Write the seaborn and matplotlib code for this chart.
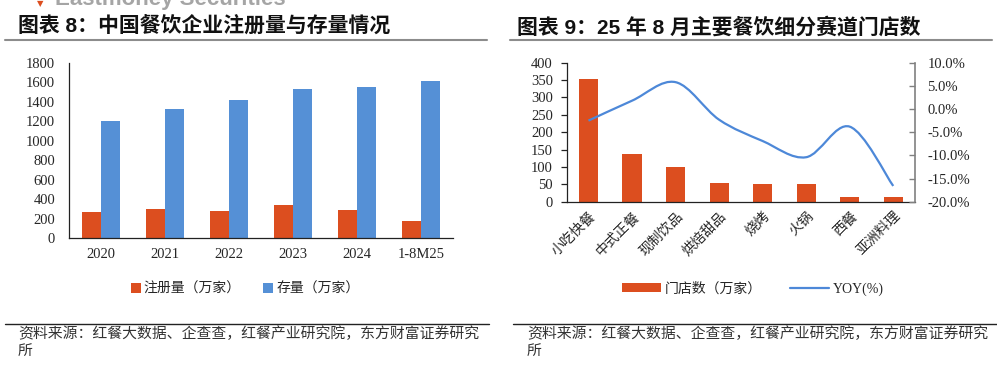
import numpy as np
import pandas as pd
import matplotlib.pyplot as plt
import seaborn as sns
from matplotlib.path import Path
from matplotlib.patches import PathPatch, Patch
from matplotlib.lines import Line2D
from matplotlib.ticker import FuncFormatter

sns.set_style("white")
plt.rcParams['font.family'] = ['Liberation Serif', 'Noto Sans CJK SC']

# left chart data
years = ['2020', '2021', '2022', '2023', '2024', '1-8M25']
registered = [270, 298, 277, 335, 284, 175]
stock = [1204, 1320, 1413, 1529, 1550, 1612]
left_series = ['注册量（万家）', '存量（万家）']

# right chart data
segments = ['小吃快餐', '中式正餐', '现制饮品', '烘焙甜品', '烧烤', '火锅', '西餐', '亚洲料理']
stores = [352, 136, 99, 54, 50, 50, 13, 13]
yoy = [-2.5, 1.8, 5.8, -2.3, -6.9, -10.4, -3.8, -16.6]

ORANGE = '#DC4E1F'
BLUE = '#5590D6'
LINE_BLUE = '#4D88D8'

fig = plt.figure(figsize=(9.97, 3.66), dpi=100)
W, H = 997, 366


def box(x0, y0, x1, y1):
    return [x0 / W, (H - y1) / H, (x1 - x0) / W, (y1 - y0) / H]


cjk = ['Liberation Sans', 'Noto Sans CJK SC']

# header decoration (logo text is cut by the top edge, as in the source page)
fig.text(55 / W, (H - 5) / H, 'Eastmoney Securities', fontsize=16, fontweight='bold',
         color='#a5a5a5', family=['Liberation Sans'], va='baseline')
fig.text(40 / W, (H - 4) / H, '▼', fontsize=6, color=ORANGE, family=['DejaVu Sans'],
         va='center', ha='center')
fig.text(18 / W, (H - 27) / H, '图表 8：中国餐饮企业注册量与存量情况', fontsize=15,
         fontweight='bold', family=cjk, va='center', color='#111111')
fig.text(517 / W, (H - 27) / H, '图表 9：25 年 8 月主要餐饮细分赛道门店数', fontsize=15,
         fontweight='bold', family=cjk, va='center', color='#111111')
for x0, x1 in [(5, 487), (510, 992)]:
    fig.add_artist(Line2D([x0 / W, x1 / W], [(H - 40) / H] * 2, color='#8c8c8c', lw=1.5))
for x0, x1 in [(5, 489), (513, 997)]:
    fig.add_artist(Line2D([x0 / W, x1 / W], [(H - 324) / H] * 2, color='#222222', lw=1.0))
src = '资料来源：红餐大数据、企查查，红餐产业研究院，东方财富证券研究'
for x0 in [18, 527]:
    fig.text(x0 / W, (H - 334) / H, src, fontsize=10.7, family=['Noto Sans CJK SC'],
             va='center', color='#333333')
    fig.text(x0 / W, (H - 352) / H, '所', fontsize=10.7, family=['Noto Sans CJK SC'],
             va='center', color='#333333')

# ---- left chart
ax1 = fig.add_axes(box(69, 62.7, 453, 238))
df1 = pd.DataFrame({'year': years * 2,
                    'value': registered + stock,
                    'series': [left_series[0]] * len(years) + [left_series[1]] * len(years)})
sns.barplot(data=df1, x='year', y='value', hue='series', palette=[ORANGE, BLUE],
            width=0.6, gap=0, saturation=1, ax=ax1, legend=False, edgecolor='none')
ax1.set_ylim(0, 1800)
ax1.set_yticks(range(0, 1801, 200))
ax1.set_xlim(-0.5, len(years) - 0.5)
ax1.set_xlabel('')
ax1.set_ylabel('')

# ---- right chart
ax2 = fig.add_axes(box(566.7, 62.7, 915, 201.7))
df2 = pd.DataFrame({'segment': segments, 'stores': stores})
sns.barplot(data=df2, x='segment', y='stores', color=ORANGE, width=0.44,
            saturation=1, ax=ax2, edgecolor='none')
ax2.set_ylim(0, 400)
ax2.set_yticks(range(0, 401, 50))
ax2.set_xlim(-0.5, len(segments) - 0.5)
ax2.set_xlabel('')
ax2.set_ylabel('')
ax2.set_xticks(range(len(segments)))
ax2.set_xticklabels(segments, rotation=45, ha='right', rotation_mode='anchor',
                    family=['Noto Sans CJK SC'], fontsize=10)

ax3 = ax2.twinx()
ax3.set_ylim(-20, 10)
ax3.set_yticks(np.arange(-20, 10.1, 5))
ax3.yaxis.set_major_formatter(FuncFormatter(lambda v, p: f'{v:.1f}%'))
# smoothed line (Catmull-Rom as cubic Bezier) through the yoy values
xs = np.arange(len(yoy), dtype=float)
ys = np.array(yoy, dtype=float)
verts = [(xs[0], ys[0])]
codes = [Path.MOVETO]
n = len(xs)
for i in range(n - 1):
    p0 = (xs[max(i - 1, 0)], ys[max(i - 1, 0)])
    p1 = (xs[i], ys[i])
    p2 = (xs[i + 1], ys[i + 1])
    p3 = (xs[min(i + 2, n - 1)], ys[min(i + 2, n - 1)])
    c1 = (p1[0] + (p2[0] - p0[0]) / 6, p1[1] + (p2[1] - p0[1]) / 6)
    c2 = (p2[0] - (p3[0] - p1[0]) / 6, p2[1] - (p3[1] - p1[1]) / 6)
    verts += [c1, c2, p2]
    codes += [Path.CURVE4] * 3
ax3.add_patch(PathPatch(Path(verts, codes), facecolor='none', edgecolor=LINE_BLUE, lw=1.6))

# axis styling
for ax in (ax1, ax2):
    for s in ['top', 'right']:
        ax.spines[s].set_visible(False)
    ax.spines['left'].set_color('#222222')
    ax.spines['bottom'].set_color('#222222')
    ax.spines['left'].set_linewidth(0.9)
    ax.spines['bottom'].set_linewidth(0.9)
    nc = len(ax.get_xticks())
    ax.set_xticks(np.arange(-0.5, nc), minor=True)
    ax.tick_params(axis='x', which='major', length=0, pad=7, labelsize=10.5)
    ax.tick_params(axis='x', which='minor', length=5, direction='out', color='#222222', width=0.9)
    ax.tick_params(axis='y', length=4, direction='out', color='#222222', width=0.9,
                   labelsize=10.5, pad=6)
    ax.grid(False)
ax2.tick_params(axis='x', which='major', pad=5, labelsize=10)
for s in ['top', 'left', 'bottom']:
    ax3.spines[s].set_visible(False)
ax3.spines['right'].set_color('#808080')
ax3.spines['right'].set_linewidth(1.2)
ax3.tick_params(axis='y', length=4, direction='in', color='#808080', width=1,
                labelsize=10.5, pad=9)
ax3.grid(False)

# legends
h1 = [Patch(facecolor=ORANGE, edgecolor='none'), Patch(facecolor=BLUE, edgecolor='none')]
fig.legend(h1, left_series, loc='center', bbox_to_anchor=(245 / W, (H - 289) / H),
           ncol=2, frameon=False, handlelength=0.75, handleheight=0.75,
           handletextpad=0.2, columnspacing=1.6, fontsize=10)
h2 = [Patch(facecolor=ORANGE, edgecolor='none'), Line2D([0], [0], color=LINE_BLUE, lw=1.6)]
fig.legend(h2, ['门店数（万家）', 'YOY(%)'], loc='center', bbox_to_anchor=(753 / W, (H - 289) / H),
           ncol=2, frameon=False, handlelength=2.8, handleheight=0.6,
           handletextpad=0.3, columnspacing=2.0, fontsize=10)

fig.savefig('out.png', dpi=100)
